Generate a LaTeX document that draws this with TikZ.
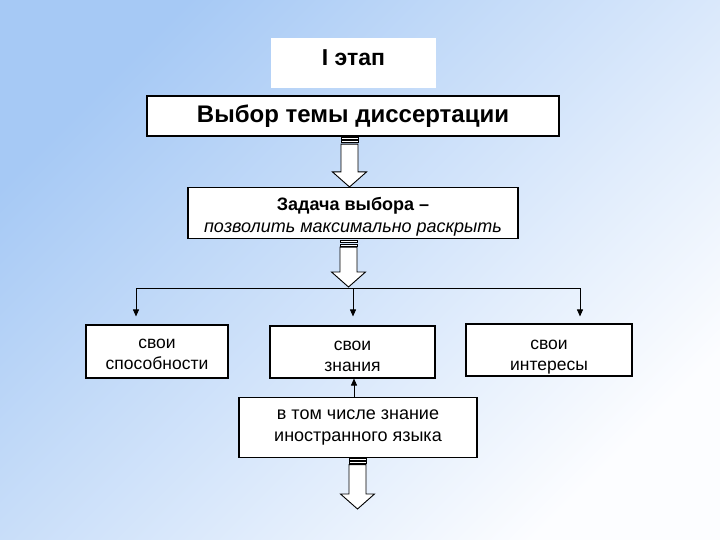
\documentclass[tikz,border=0pt]{standalone}
\usepackage{fontspec}
\setmainfont{Liberation Sans}
\usetikzlibrary{calc,arrows.meta}
\definecolor{bgblue}{RGB}{166,201,245}
\definecolor{bgmid}{RGB}{220,232,251}
\definecolor{bgwhite}{RGB}{252,253,255}
\tikzset{
  box/.style={draw=black, line width=1.1pt, fill=white, inner sep=0pt, align=center},
  stagebox/.style={fill=white, inner sep=0pt, align=center},
  conn/.style={draw=black, line width=0.9pt},
  tipped/.style={conn, -{Triangle[width=6pt,length=7pt]}},
  barrow/.style={draw=black, line width=0.9pt, fill=white, line join=miter},
  bigfont/.style={font=\fontsize{24}{29}\selectfont\bfseries},
  midfont/.style={font=\fontsize{18}{22.5}\selectfont},
  smallfont/.style={font=\fontsize{17.5}{21}\selectfont},
  langfont/.style={font=\fontsize{18}{22.5}\selectfont}
}
\newcommand{\shifttext}[2]{\raisebox{#1}[\height][\depth]{#2}}
\newcommand{\twoline}[3][0pt]{\shifttext{#1}{\begin{tabular}{@{}c@{}}#2\\#3\end{tabular}}}
\newcommand{\stripedarrow}[2]{%
  \path (#1) coordinate (sa-t) (#2) coordinate (sa-p);
  \draw[barrow] ($(sa-t)+(-8.5,0)$) rectangle ($(sa-t)+(8.5,2.2)$);
  \draw[barrow] ($(sa-t)+(-8.5,3.4)$) rectangle ($(sa-t)+(8.5,5.4)$);
  \draw[barrow] ($(sa-t)+(-8.5,6.6)$) -- ($(sa-p)+(-8.5,-15)$) -- ($(sa-p)+(-17,-15)$) -- (sa-p)
     -- ($(sa-p)+(17,-15)$) -- ($(sa-p)+(8.5,-15)$) -- ($(sa-t)+(8.5,6.6)$) -- cycle;
}
\begin{document}
\begin{tikzpicture}[x=1pt,y=-1pt]
\shade[top color=bgblue, middle color=bgmid, bottom color=bgwhite, shading angle=45] (0,0) rectangle (720,540);
\useasboundingbox (0,0) rectangle (720,540);

\node[stagebox, minimum width=165pt, minimum height=50pt, font=\fontsize{23}{28}\selectfont\bfseries] (stage) at (353.5,63) {\shifttext{5pt}{I этап}};
\node[box, bigfont, minimum width=412pt, minimum height=40pt] (theme) at (353,116) {Выбор темы диссертации};
\node[box, midfont, minimum width=330pt, minimum height=51pt] (task) at (353,213) {\twoline[-4pt]{\textbf{Задача выбора –}}{\textit{позволить максимально раскрыть}}};
\node[box, smallfont, minimum width=142pt, minimum height=53pt] (abil) at (157,351.5) {\twoline[-3pt]{свои}{способности}};
\node[box, smallfont, minimum width=165pt, minimum height=52pt] (know) at (352.5,352) {\twoline[-4.5pt]{свои}{знания}};
\node[box, smallfont, minimum width=166pt, minimum height=52pt] (inter) at (549,350) {\twoline[-6pt]{свои}{интересы}};
\node[box, langfont, minimum width=238pt, minimum height=60pt] (lang) at (358,427.5) {\twoline[1.5pt]{в том числе знание}{иностранного языка}};

\coordinate (fork) at (353,288);
\coordinate (ax1) at (349.5,0);
\coordinate (ax2) at (348.5,0);
\coordinate (ax3) at (357.5,0);
\coordinate (endtip) at (357.5,509);

% block arrows
\stripedarrow{$(ax1 |- theme.south)+(0,1)$}{ax1 |- task.north}
\stripedarrow{$(ax2 |- task.south)+(0,1.5)$}{$(ax2 |- fork)+(0,-1)$}
\stripedarrow{ax3 |- lang.south}{endtip}

% branching connectors
\draw[conn] ([xshift=-21pt]abil.north |- fork) -- ([xshift=31pt]inter.north |- fork);
\draw[tipped] ([xshift=-21pt]abil.north |- fork) -- ([xshift=-21pt,yshift=8pt]abil.north);
\draw[tipped] (fork) -- ([xshift=0.5pt,yshift=9pt]know.north);
\draw[tipped] ([xshift=31pt]inter.north |- fork) -- ([xshift=31pt,yshift=7pt]inter.north);
\draw[tipped] ([xshift=1.5pt]know.south |- lang.north) -- ([xshift=1.5pt]know.south);
\end{tikzpicture}
\end{document}
